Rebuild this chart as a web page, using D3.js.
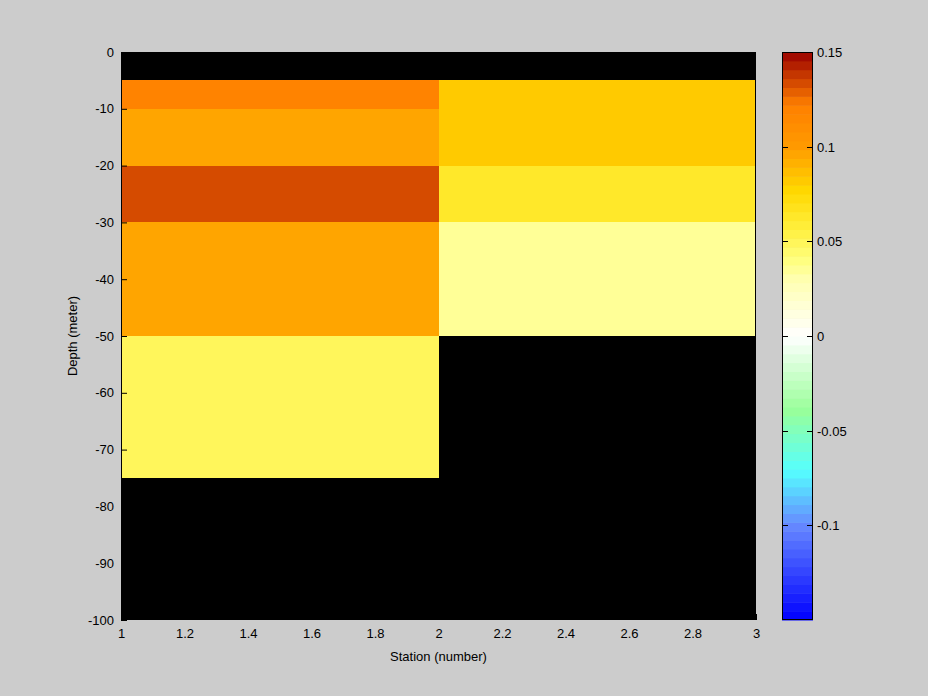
<!DOCTYPE html>
<html>
<head>
<meta charset="utf-8">
<script src="https://cdn.jsdelivr.net/npm/d3@7"></script>
<style>
html,body{margin:0;padding:0;background:#cccccc;}
svg{display:block;font-family:"Liberation Sans","DejaVu Sans",sans-serif;}
</style>
</head>
<body>
<svg id="chart" width="928" height="696"></svg>
<script>
// ---- data ----
const stationEdges = [1, 2, 3];
const depthEdges = [0, -5, -10, -20, -30, -50, -75, -100];
// values per depth bin (top to bottom), null = no data
const station1Values = [null, 0.119, 0.098, 0.135, 0.094, 0.048, null];
const station2Values = [null, 0.083, 0.083, 0.064, 0.037, null, null];
const xTicks = [1, 1.2, 1.4, 1.6, 1.8, 2, 2.2, 2.4, 2.6, 2.8, 3];
const xTickLabels = ["1", "1.2", "1.4", "1.6", "1.8", "2", "2.2", "2.4", "2.6", "2.8", "3"];
const yTicks = [0, -10, -20, -30, -40, -50, -60, -70, -80, -90, -100];
const yTickLabels = ["0", "-10", "-20", "-30", "-40", "-50", "-60", "-70", "-80", "-90", "-100"];
const cbTicks = [0.15, 0.1, 0.05, 0, -0.05, -0.1];
const cbTickLabels = ["0.15", "0.1", "0.05", "0", "-0.05", "-0.1"];
const colorDomain = [-0.15, 0.15];
const colormapStops = [-0.15, -0.1, -0.071, -0.039, 0, 0.03, 0.04, 0.056, 0.077, 0.1, 0.122, 0.15];
const colormapColors = ["#0000ff", "#6688ff", "#55ffff", "#99ff99", "#ffffff", "#ffffb0", "#ffff80", "#fff040", "#ffd800", "#ff9a00", "#ff8000", "#990000"];
const nLevels = 64;
const xLabel = "Station (number)";
const yLabel = "Depth (meter)";

// ---- layout ----
const svg = d3.select("#chart");
const plot = {left: 121, right: 756, top: 52, bottom: 620};
const cb = {left: 782, right: 813, top: 52, bottom: 620};

const x = d3.scaleLinear().domain([stationEdges[0], stationEdges[stationEdges.length-1]]).range([plot.left, plot.right]);
const y = d3.scaleLinear().domain([0, -100]).range([plot.top, plot.bottom]);

const cont = d3.scaleLinear().domain(colormapStops).range(colormapColors).interpolate(d3.interpolateRgb);
const levelColors = d3.range(nLevels).map(i => cont(colorDomain[0] + (i + 0.5) * (colorDomain[1]-colorDomain[0]) / nLevels));
const color = d3.scaleQuantize().domain(colorDomain).range(levelColors);

// axes background
svg.append("rect").attr("x", plot.left).attr("y", plot.top)
  .attr("width", plot.right-plot.left).attr("height", plot.bottom-plot.top).attr("fill", "#000");

const cells = [];
[station1Values, station2Values].forEach((vals, si) => {
  vals.forEach((v, di) => {
    cells.push({x0: stationEdges[si], x1: stationEdges[si+1], y0: depthEdges[di], y1: depthEdges[di+1], v});
  });
});
svg.append("g").selectAll("rect").data(cells.filter(c => c.v !== null)).join("rect")
  .attr("x", d => x(d.x0)).attr("y", d => y(d.y0))
  .attr("width", d => x(d.x1) - x(d.x0)).attr("height", d => y(d.y1) - y(d.y0))
  .attr("fill", d => color(d.v)).attr("shape-rendering", "crispEdges");

// axes
const fs = 13;
const gx = svg.append("g").attr("transform", `translate(0,${plot.bottom})`)
  .call(d3.axisBottom(x).tickValues(xTicks).tickFormat((d, i) => xTickLabels[i]).tickSize(-6).tickPadding(9));
const gy = svg.append("g").attr("transform", `translate(${plot.left},0)`)
  .call(d3.axisLeft(y).tickValues(yTicks).tickFormat((d, i) => yTickLabels[i]).tickSize(-6).tickPadding(7));
[gx, gy].forEach(g => {
  g.select(".domain").remove();
  g.selectAll("line").attr("stroke", "#000");
  g.selectAll("text").attr("fill", "#000").style("font-size", fs + "px").style("font-family", "Liberation Sans, DejaVu Sans, sans-serif");
});
svg.append("rect").attr("x", plot.left+0.5).attr("y", plot.top+0.5)
  .attr("width", plot.right-plot.left-1).attr("height", plot.bottom-plot.top-1)
  .attr("fill", "none").attr("stroke", "#000");

svg.append("text").attr("x", (plot.left+plot.right)/2).attr("y", 661)
  .attr("text-anchor", "middle").style("font-size", fs + "px").text(xLabel);
svg.append("text").attr("transform", `translate(77,${(plot.top+plot.bottom)/2}) rotate(-90)`)
  .attr("text-anchor", "middle").style("font-size", fs + "px").text(yLabel);

// colorbar
const cy = d3.scaleLinear().domain(colorDomain).range([cb.bottom, cb.top]);
const step = (colorDomain[1]-colorDomain[0]) / nLevels;
svg.append("g").selectAll("rect").data(levelColors).join("rect")
  .attr("x", cb.left).attr("width", cb.right-cb.left)
  .attr("y", (d, i) => cy(colorDomain[0] + (i+1)*step))
  .attr("height", (d, i) => cy(colorDomain[0] + i*step) - cy(colorDomain[0] + (i+1)*step) + 0.5)
  .attr("fill", d => d);
svg.append("rect").attr("x", cb.left+0.5).attr("y", cb.top+0.5)
  .attr("width", cb.right-cb.left-1).attr("height", cb.bottom-cb.top-1)
  .attr("fill", "none").attr("stroke", "#000");
const cbg = svg.append("g");
cbTicks.forEach((t, i) => {
  const yy = Math.round(cy(t)) + 0.5;
  cbg.append("line").attr("x1", cb.left).attr("x2", cb.left+6).attr("y1", yy).attr("y2", yy).attr("stroke", "#000");
  cbg.append("line").attr("x1", cb.right-6).attr("x2", cb.right).attr("y1", yy).attr("y2", yy).attr("stroke", "#000");
  cbg.append("text").attr("x", cb.right+4).attr("y", yy).attr("dy", "0.35em")
    .style("font-size", fs + "px").text(cbTickLabels[i]);
});
</script>
</body>
</html>
